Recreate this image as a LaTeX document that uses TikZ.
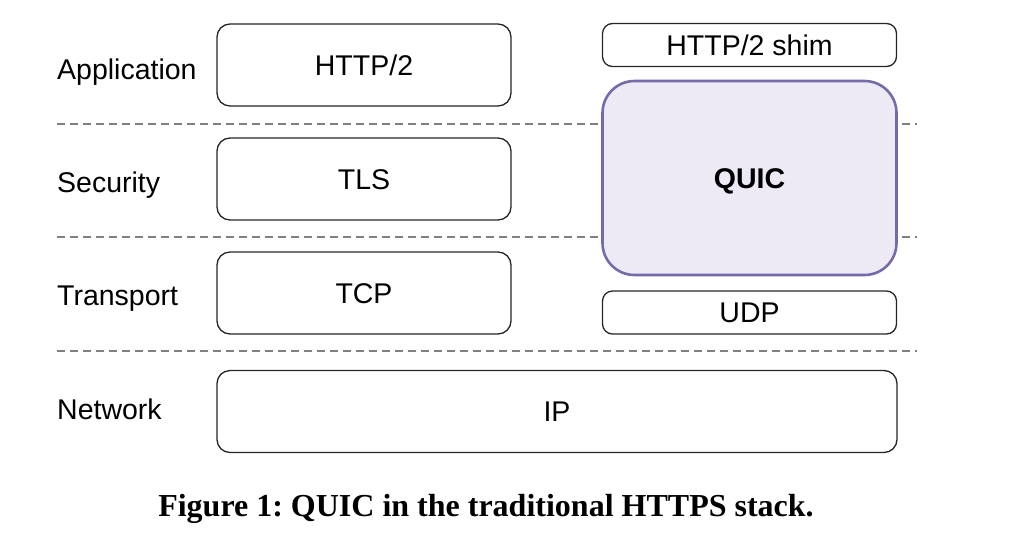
\documentclass[tikz,border=0pt]{standalone}
\usepackage{fontspec}
\setmainfont{Liberation Sans}
\newfontfamily\capfont{Liberation Serif}
\usetikzlibrary{positioning}

\definecolor{quicline}{RGB}{117,106,170}
\definecolor{quicfill}{RGB}{237,234,245}
\definecolor{layerdash}{RGB}{128,128,128}

\begin{document}
\begin{tikzpicture}[x=1pt,y=1pt,yscale=-1,xscale=1,
    box/.style={draw=black!85,line width=1.3pt,rounded corners=13pt,fill=white,
      inner sep=0pt,minimum width=294pt,minimum height=82pt,
      text height=20.4pt,text depth=0pt,
      font=\fontsize{28.5}{34}\selectfont},
    thinbox/.style={box,rounded corners=10pt,minimum height=43pt},
    layer/.style={anchor=base west,inner sep=0pt,font=\fontsize{28.5}{34}\selectfont},
    sepline/.style={draw=layerdash,line width=1.4pt,dash pattern=on 8pt off 5pt}]

  \useasboundingbox (0,0) rectangle (1011,541);

  % Layer separators
  \draw [sepline] (57,124) -- (917,124);
  \draw [sepline] (57,237) -- (917,237);
  \draw [sepline] (57,351) -- (917,351);

  % Layer names
  \node [layer] (app) at (57,79) {Application};
  \node [layer] (sec) at (57,192.5) {Security};
  \node [layer] (trans) at (57,305.5) {Transport};
  \node [layer] (net) at (57,419) {Network};

  % Traditional stack
  \node [box] (http) at (364,65) {HTTP/2};
  \node [box] (tls) at (364,179) {TLS};
  \node [box] (tcp) at (364,293) {TCP};
  \node [box,minimum width=680pt] (ip) at (557,411.5) {IP};

  % QUIC stack
  \node [thinbox] (shim) at (749.5,45) {HTTP/2 shim};
  \node [box,draw=quicline,fill=quicfill,line width=2.6pt,rounded corners=32pt,
    minimum height=194pt,font=\fontsize{28.5}{34}\selectfont\bfseries] (quic) at (749.5,178) {QUIC};
  \node [thinbox] (udp) at (749.5,312.5) {UDP};

  % Caption
  \node [anchor=base,font=\capfont\bfseries\fontsize{32}{38}\selectfont\frenchspacing] (caption) at (486,516.5)
    {Figure 1: QUIC in the traditional HTTPS stack.};

\end{tikzpicture}
\end{document}
